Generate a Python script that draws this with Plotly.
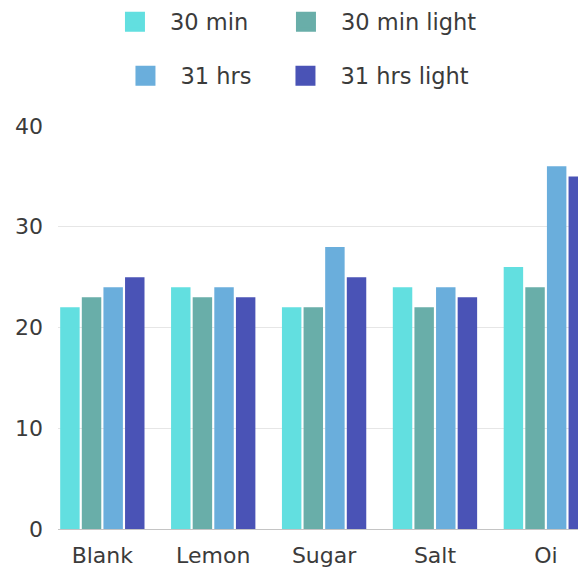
import plotly.graph_objects as go

# Samples and measured values for each condition
categories = ["Blank", "Lemon", "Sugar", "Salt", "Oi"]
min30 = [22, 24, 22, 24, 26]
min30_light = [23, 23, 22, 22, 24]
hrs31 = [24, 24, 28, 24, 36]
hrs31_light = [25, 23, 25, 23, 35]

series = [
    ("30 min", min30, "#62dfe0", "legend", 96),
    ("30 min light", min30_light, "#69aea9", "legend", None),
    ("31 hrs", hrs31, "#6aaedc", "legend2", 85),
    ("31 hrs light", hrs31_light, "#4a53b6", "legend2", None),
]

FONT = "DejaVu Sans"
TEXT = "#3b3b3b"

fig = go.Figure()

for name, values, color, _, _ in series:
    fig.add_trace(go.Bar(
        x=categories, y=values, name=name,
        marker=dict(color=color, line=dict(width=0)),
        showlegend=False,
    ))

# Legend entries with larger square swatches
for name, _, color, leg, lw in series:
    fig.add_trace(go.Scatter(
        x=[None], y=[None], mode="markers", name=name, legend=leg,
        legendwidth=lw,
        marker=dict(symbol="square", size=16, color=color,
                    line=dict(color=color, width=4)),
    ))

legend_common = dict(
    orientation="h", xanchor="left", yanchor="middle",
    font=dict(family=FONT, size=22.5, color=TEXT),
    itemwidth=60, bgcolor="rgba(0,0,0,0)",
)

fig.update_layout(
    width=578, height=569,
    margin=dict(l=58, r=0, t=126, b=40),
    paper_bgcolor="white", plot_bgcolor="white",
    barmode="group", bargap=0.22, bargroupgap=0.1,
    legend=dict(x=0.0807, y=1.258, **legend_common),
    legend2=dict(x=0.1009, y=1.124, **legend_common),
    xaxis=dict(
        type="category", range=[-0.40, 4.29],
        showgrid=False, showline=False, zeroline=False,
        ticks="", ticklabelstandoff=11,
        tickfont=dict(family=FONT, size=22, color=TEXT),
    ),
    yaxis=dict(
        range=[0, 40], dtick=10, tick0=0,
        showgrid=True, gridcolor="#e6e6e6", gridwidth=1,
        zeroline=True, zerolinecolor="#c4c4c4", zerolinewidth=1,
        showline=False, ticks="", ticklabelstandoff=14,
        tickfont=dict(family=FONT, size=22, color=TEXT),
    ),
)

fig.write_html("out.html")
